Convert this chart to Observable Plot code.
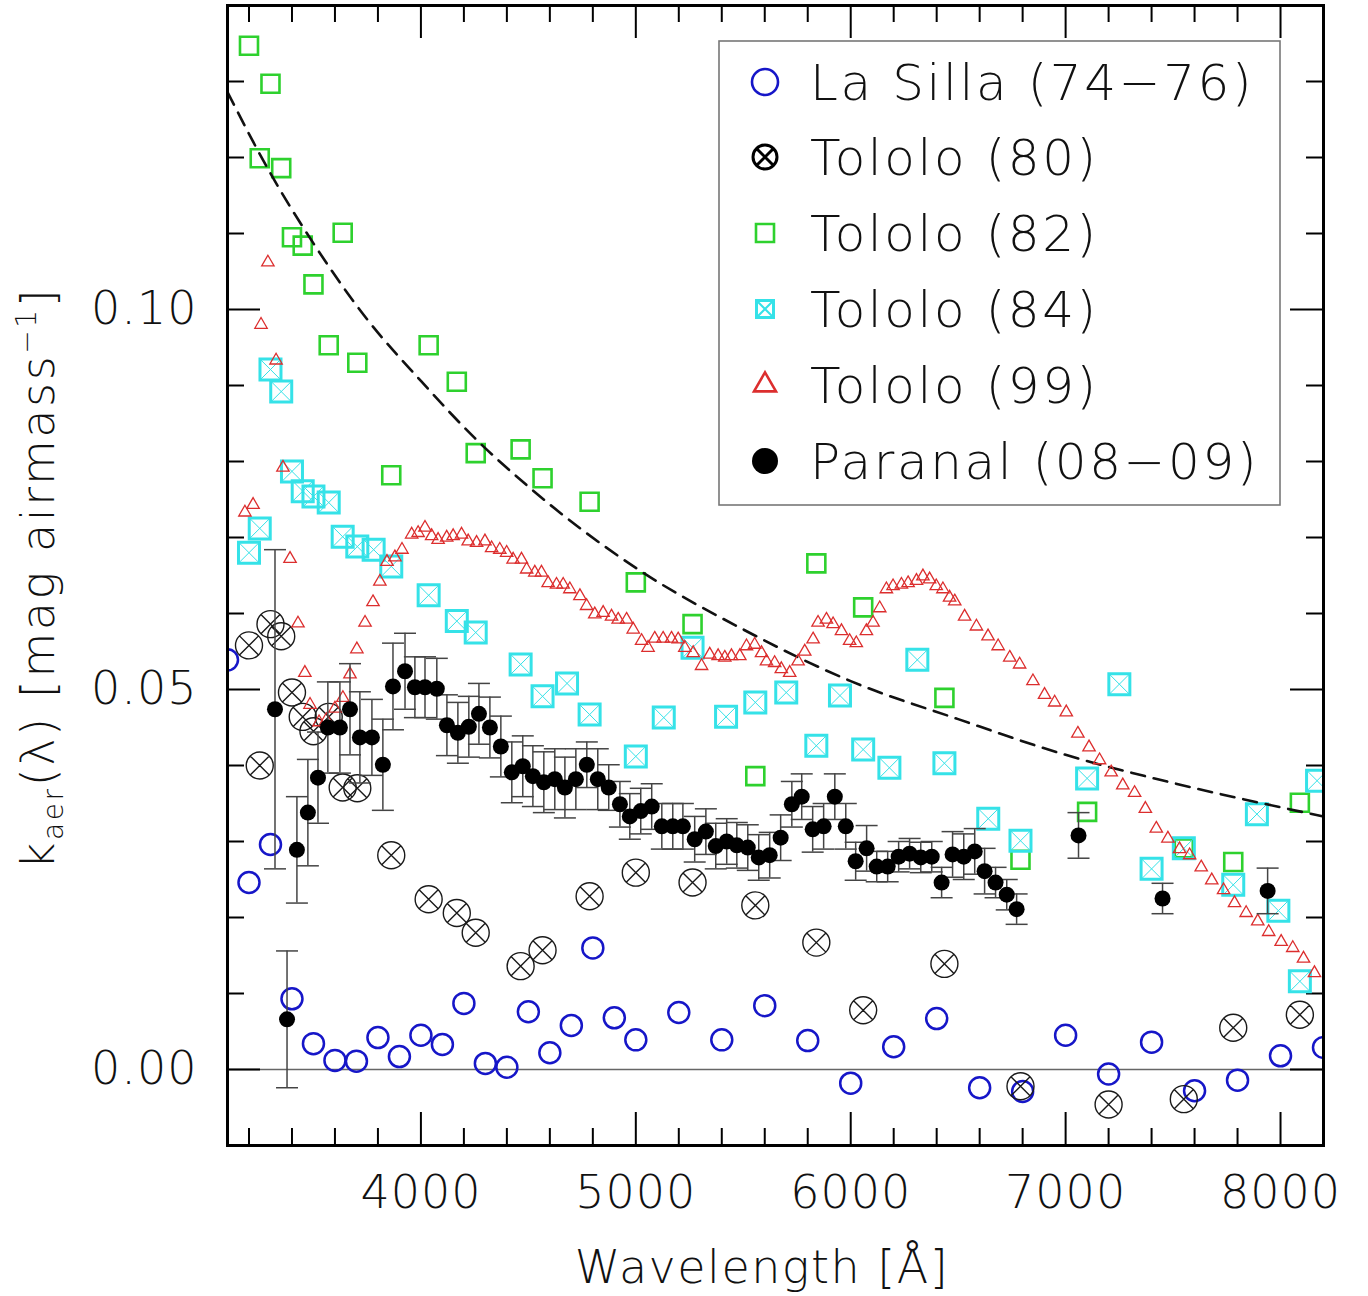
<!DOCTYPE html>
<html><head><meta charset="utf-8">
<script src="https://cdn.jsdelivr.net/npm/d3@7"></script>
<script src="https://cdn.jsdelivr.net/npm/@observablehq/plot@0.6"></script>
<style>
html,body{margin:0;padding:0;background:#fff;}
#chart{position:relative;width:1368px;height:1296px;}
#chart svg text{font-family:"DejaVu Sans",sans-serif;font-weight:200;letter-spacing:1px;}
</style></head><body><div id="chart"></div>
<script>
// ---------- data ----------
const seriesNames = ["La Silla (74\u221276)", "Tololo (80)", "Tololo (82)", "Tololo (84)", "Tololo (99)", "Paranal (08\u221209)"];

const lasillaWl = [3100,3200,3300,3400,3500,3600,3700,3800,3900,4000,4100,4200,4300,4400,4500,4600,4700,4800,4900,5000,5200,5400,5600,5800,6000,6200,6400,6600,6800,7000,7200,7400,7600,7800,8000,8200];
const lasillaK  = [0.0539,0.0246,0.0296,0.0093,0.0034,0.0012,0.0011,0.0042,0.0017,0.0045,0.0033,0.0087,0.0008,0.0003,0.0076,0.0022,0.0058,0.0160,0.0068,0.0039,0.0075,0.0039,0.0084,0.0038,-0.0018,0.0030,0.0067,-0.0024,-0.0029,0.0045,-0.0006,0.0036,-0.0028,-0.0014,0.0018,0.0029];

const t80Wl = [3200,3250,3300,3350,3400,3450,3500,3571,3636,3704,3862,4036,4167,4255,4464,4566,4785,5000,5264,5556,5840,6058,6436,6790,7200,7550,7780,8090];
const t80K  = [0.0558,0.0400,0.0586,0.0570,0.0496,0.0464,0.0445,0.0464,0.0371,0.0370,0.0282,0.0224,0.0206,0.0180,0.0136,0.0157,0.0228,0.0259,0.0246,0.0216,0.0167,0.0078,0.0139,-0.0022,-0.0046,-0.0039,0.0055,0.0072];

const t82Wl = [3200,3250,3300,3350,3400,3450,3500,3571,3636,3704,3862,4036,4167,4255,4464,4566,4785,5000,5264,5556,5840,6058,6436,6790,7100,7550,7780,8090];
const t82K  = [0.1347,0.1199,0.1297,0.1186,0.1095,0.1084,0.1033,0.0953,0.1101,0.0930,0.0782,0.0953,0.0905,0.0811,0.0816,0.0778,0.0747,0.0641,0.0586,0.0386,0.0666,0.0608,0.0489,0.0276,0.0339,0.0291,0.0273,0.0351];

const t84Wl = [3200,3250,3300,3350,3400,3450,3500,3571,3636,3704,3780,3862,4036,4167,4255,4464,4566,4680,4785,5000,5130,5264,5420,5556,5700,5840,5950,6058,6180,6310,6436,6640,6790,7100,7250,7400,7550,7780,7890,7990,8090,8170];
const t84K  = [0.0680,0.0712,0.0921,0.0892,0.0787,0.0761,0.0754,0.0746,0.0701,0.0688,0.0684,0.0662,0.0624,0.0590,0.0575,0.0533,0.0491,0.0508,0.0467,0.0412,0.0463,0.0555,0.0464,0.0483,0.0496,0.0426,0.0492,0.0421,0.0397,0.0539,0.0403,0.0330,0.0301,0.0383,0.0507,0.0264,0.0291,0.0243,0.0336,0.0209,0.0116,0.0380];

const t99Wl = [3181,3219,3256,3288,3326,3358,3391,3428,3460,3484,3526,3560,3600,3637,3670,3702,3740,3777,3809,3842,3879,3912,3957,3987,4019,4050,4080,4120,4150,4189,4220,4259,4298,4329,4367,4399,4429,4468,4492,4530,4561,4592,4631,4662,4693,4740,4771,4809,4848,4887,4918,4957,4988,5027,5057,5088,5127,5166,5197,5228,5267,5306,5344,5383,5414,5445,5484,5515,5553,5585,5608,5646,5677,5716,5755,5786,5825,5848,5887,5918,5957,5995,6026,6073,6104,6135,6166,6197,6236,6267,6306,6336,6367,6398,6429,6460,6484,6530,6585,6639,6686,6740,6786,6848,6902,6949,7003,7057,7109,7158,7212,7266,7321,7371,7422,7476,7530,7577,7631,7680,7735,7786,7840,7894,7945,8003,8057,8107,8158];
const t99K  = [0.0733,0.0743,0.0980,0.1062,0.0933,0.0792,0.0672,0.0587,0.0522,0.0480,0.0457,0.0460,0.0475,0.0489,0.0520,0.0553,0.0588,0.0615,0.0642,0.0668,0.0674,0.0684,0.0704,0.0706,0.0713,0.0702,0.0697,0.0700,0.0702,0.0704,0.0695,0.0693,0.0695,0.0686,0.0684,0.0680,0.0671,0.0671,0.0658,0.0654,0.0654,0.0640,0.0638,0.0638,0.0632,0.0623,0.0610,0.0599,0.0601,0.0596,0.0592,0.0592,0.0579,0.0564,0.0555,0.0567,0.0567,0.0567,0.0566,0.0555,0.0548,0.0531,0.0546,0.0544,0.0542,0.0544,0.0544,0.0557,0.0559,0.0548,0.0537,0.0535,0.0527,0.0522,0.0537,0.0550,0.0566,0.0588,0.0592,0.0586,0.0577,0.0564,0.0561,0.0577,0.0588,0.0607,0.0632,0.0636,0.0638,0.0640,0.0643,0.0649,0.0645,0.0636,0.0632,0.0621,0.0616,0.0596,0.0583,0.0570,0.0557,0.0542,0.0533,0.0511,0.0493,0.0483,0.0470,0.0442,0.0424,0.0407,0.0391,0.0374,0.0364,0.0343,0.0317,0.0304,0.0290,0.0282,0.0266,0.0249,0.0236,0.0219,0.0206,0.0195,0.0181,0.0168,0.0160,0.0146,0.0127];

const parWl  = [3321,3377,3423,3474,3521,3567,3623,3670,3716,3772,3823,3870,3926,3972,4019,4074,4121,4172,4223,4270,4321,4372,4423,4474,4521,4572,4623,4670,4721,4772,4823,4874,4926,4972,5023,5074,5121,5172,5219,5274,5326,5372,5423,5470,5521,5572,5623,5674,5726,5772,5823,5874,5926,5977,6023,6074,6121,6172,6223,6274,6326,6377,6423,6474,6526,6577,6623,6674,6726,6772,7060,7451,7940];
const parK   = [0.0474,0.0066,0.0289,0.0338,0.0384,0.0450,0.0450,0.0474,0.0437,0.0437,0.0401,0.0504,0.0524,0.0503,0.0503,0.0501,0.0453,0.0443,0.0451,0.0468,0.0450,0.0425,0.0391,0.0399,0.0386,0.0378,0.0382,0.0371,0.0382,0.0401,0.0382,0.0371,0.0349,0.0333,0.0340,0.0346,0.0320,0.0320,0.0320,0.0303,0.0313,0.0294,0.0300,0.0295,0.0292,0.0279,0.0282,0.0305,0.0349,0.0359,0.0316,0.0320,0.0359,0.0320,0.0274,0.0291,0.0267,0.0267,0.0280,0.0284,0.0279,0.0280,0.0246,0.0283,0.0280,0.0287,0.0261,0.0246,0.0230,0.0211,0.0308,0.0225,0.0235];
const parErr = [0.021,0.009,0.007,0.007,0.006,0.006,0.006,0.006,0.006,0.005,0.006,0.0057,0.005,0.004,0.004,0.004,0.004,0.004,0.004,0.004,0.004,0.004,0.004,0.004,0.004,0.004,0.004,0.004,0.004,0.003,0.004,0.003,0.003,0.003,0.003,0.003,0.003,0.003,0.003,0.003,0.003,0.003,0.003,0.003,0.003,0.003,0.003,0.003,0.003,0.003,0.003,0.003,0.003,0.003,0.0025,0.003,0.002,0.002,0.002,0.002,0.002,0.002,0.002,0.003,0.003,0.003,0.003,0.002,0.002,0.002,0.003,0.002,0.003];

// dashed fit curve
const fitWl = [3100,3300,3500,3750,4000,4250,4500,5000,5500,6000,6500,7000,7500,8000,8200];
const fitK  = [0.1286,0.1179,0.1087,0.0987,0.0906,0.0831,0.0767,0.0660,0.0579,0.0511,0.0461,0.0414,0.0377,0.0345,0.0333];

const xTicksMajor = [4000,5000,6000,7000,8000];
const xTicksMinor = [3200,3400,3600,3800,4200,4400,4600,4800,5200,5400,5600,5800,6200,6400,6600,6800,7200,7400,7600,7800];
const yTicksMajor = [0,0.05,0.10];
const yTicksMinor = [0.01,0.02,0.03,0.04,0.06,0.07,0.08,0.09,0.11,0.12,0.13];

// ---------- build ----------
const zip = (w, k) => w.map((d, i) => ({wl: d, k: k[i]}));
const lasilla = zip(lasillaWl, lasillaK);
const t80 = zip(t80Wl, t80K);
const t82 = zip(t82Wl, t82K);
const t84 = zip(t84Wl, t84K);
const t99 = zip(t99Wl, t99K);
const par = parWl.map((d, i) => ({wl: d, k: parK[i], err: parErr[i]}));
const fit = zip(fitWl, fitK);

const W = 1368, H = 1296, ML = 227, MT = 5, MR = 45, MB = 151;
const XD = [3100, 8200], YD = [-0.01, 0.14];
const pxX = (XD[1] - XD[0]) / (W - ML - MR);
const pxY = (YD[1] - YD[0]) / (H - MT - MB);
const MAJ = 33, MIN = 17;

const COL = {lasilla: "#1616c8", t80: "#1a1a1a", t82: "#2ed12e", t84: "#35e2e8", t99: "#dc2e2e", par: "#000"};

const circleX = {draw(c, size) { const r = Math.sqrt(size / Math.PI); c.moveTo(r, 0); c.arc(0, 0, r, 0, 2 * Math.PI); const a = r * Math.SQRT1_2; c.moveTo(-a, -a); c.lineTo(a, a); c.moveTo(-a, a); c.lineTo(a, -a); }};
const squareX = {draw(c, size) { const s = Math.sqrt(size) / 2; c.moveTo(-s, -s); c.lineTo(s, s); c.moveTo(-s, s); c.lineTo(s, -s); }};
const hcap = {draw(c, size) { const r = Math.sqrt(size / Math.PI); c.moveTo(-r, 0); c.lineTo(r, 0); }};
const sqR = side => Math.sqrt(side * side / Math.PI);

const tickStyle = {stroke: "#000", strokeWidth: 2};

const plot = Plot.plot({
  width: W, height: H,
  marginLeft: ML, marginTop: MT, marginRight: MR, marginBottom: MB,
  x: {domain: XD},
  y: {domain: YD},
  style: {background: "#fff", color: "#111", fontFamily: '"DejaVu Sans", sans-serif'},
  marks: [
    Plot.ruleY([0], {stroke: "#666", strokeWidth: 1.3}),
    // inward ticks
    Plot.ruleX(xTicksMajor, {x: d => d, y1: YD[0], y2: YD[0] + MAJ * pxY, ...tickStyle}),
    Plot.ruleX(xTicksMinor, {x: d => d, y1: YD[0], y2: YD[0] + MIN * pxY, ...tickStyle}),
    Plot.ruleX(xTicksMajor, {x: d => d, y1: YD[1], y2: YD[1] - MAJ * pxY, ...tickStyle}),
    Plot.ruleX(xTicksMinor, {x: d => d, y1: YD[1], y2: YD[1] - MIN * pxY, ...tickStyle}),
    Plot.ruleY(yTicksMajor, {y: d => d, x1: XD[0], x2: XD[0] + MAJ * pxX, ...tickStyle}),
    Plot.ruleY(yTicksMinor, {y: d => d, x1: XD[0], x2: XD[0] + MIN * pxX, ...tickStyle}),
    Plot.ruleY(yTicksMajor, {y: d => d, x1: XD[1], x2: XD[1] - MAJ * pxX, ...tickStyle}),
    Plot.ruleY(yTicksMinor, {y: d => d, x1: XD[1], x2: XD[1] - MIN * pxX, ...tickStyle}),
    // series
    Plot.dot(lasilla, {x: "wl", y: "k", symbol: "circle", r: 10.5, fill: "none", stroke: COL.lasilla, strokeWidth: 2.5, clip: true}),
    Plot.dot(t80, {x: "wl", y: "k", symbol: circleX, r: 13.5, fill: "none", stroke: COL.t80, strokeWidth: 1.4, clip: true}),
    Plot.dot(t82, {x: "wl", y: "k", symbol: "square", r: sqR(18), fill: "none", stroke: COL.t82, strokeWidth: 2.6, clip: true}),
    Plot.dot(t84, {x: "wl", y: "k", symbol: "square", r: sqR(21), fill: "none", stroke: COL.t84, strokeWidth: 3, clip: true}),
    Plot.dot(t84, {x: "wl", y: "k", symbol: squareX, r: sqR(21), fill: "none", stroke: COL.t84, strokeWidth: 1, clip: true}),
    Plot.line(fit, {x: "wl", y: "k", curve: "monotone-x", stroke: "#111", strokeWidth: 2.6, strokeDasharray: "14,9"}),
    Plot.dot(t99, {x: "wl", y: "k", symbol: "triangle", r: 4.6, fill: "none", stroke: COL.t99, strokeWidth: 1.3, clip: true}),
    Plot.ruleX(par, {x: "wl", y1: d => d.k - d.err, y2: d => d.k + d.err, stroke: "#444", strokeWidth: 1.5}),
    Plot.dot(par, {x: "wl", y: d => d.k + d.err, symbol: hcap, r: 11, fill: "none", stroke: "#444", strokeWidth: 1.5}),
    Plot.dot(par, {x: "wl", y: d => d.k - d.err, symbol: hcap, r: 11, fill: "none", stroke: "#444", strokeWidth: 1.5}),
    Plot.dot(par, {x: "wl", y: "k", symbol: "circle", r: 8, fill: COL.par, stroke: "none"}),
    Plot.frame({stroke: "#000", strokeWidth: 3}),
    Plot.axisX(xTicksMajor, {tickSize: 0, tickPadding: 30, fontSize: 46, tickFormat: d => String(d), label: null}),
    Plot.axisY(yTicksMajor, {tickSize: 0, tickPadding: 30, fontSize: 46, tickFormat: d3.format(".2f"), label: null})
  ]
});
document.getElementById("chart").appendChild(plot);

// ---------- axis titles ----------
const svg = d3.select(plot);
svg.append("text")
  .attr("x", 762).attr("y", 1283)
  .attr("text-anchor", "middle")
  .attr("font-size", 46).attr("fill", "#111")
  .style("letter-spacing", "1.5px")
  .text("Wavelength [\u00c5]");

const yl = svg.append("text")
  .attr("transform", "translate(54,578) rotate(-90)")
  .attr("text-anchor", "middle")
  .attr("font-size", 46).attr("fill", "#111")
  .style("letter-spacing", "2.6px");
yl.append("tspan").text("k");
yl.append("tspan").attr("font-size", 28).attr("dy", 9).text("aer");
yl.append("tspan").attr("dy", -9).text("(\u03bb) [mag airmass");
yl.append("tspan").attr("font-size", 28).attr("dy", -18).text("\u22121");
yl.append("tspan").attr("dy", 18).text("]");

// ---------- legend ----------
const lg = svg.append("g");
lg.append("rect").attr("x", 719).attr("y", 41).attr("width", 561).attr("height", 464)
  .attr("fill", "#fff").attr("stroke", "#777").attr("stroke-width", 1.6);
const rowsY = [82, 157, 233, 309, 385, 461];
const sx = 765;
const sym = (type, size) => d3.symbol(type, size)();
const legendSyms = [
  g => g.append("path").attr("d", sym(d3.symbolCircle, Math.PI * 13 * 13)).attr("fill", "none").attr("stroke", COL.lasilla).attr("stroke-width", 2.6),
  g => g.append("path").attr("d", sym(circleX, Math.PI * 12 * 12)).attr("fill", "none").attr("stroke", "#000").attr("stroke-width", 3),
  g => g.append("path").attr("d", sym(d3.symbolSquare, 18 * 18)).attr("fill", "none").attr("stroke", COL.t82).attr("stroke-width", 2.6),
  g => { g.append("path").attr("d", sym(d3.symbolSquare, 17 * 17)).attr("fill", "none").attr("stroke", COL.t84).attr("stroke-width", 3);
         g.append("path").attr("d", sym(squareX, 17 * 17)).attr("fill", "none").attr("stroke", COL.t84).attr("stroke-width", 2); },
  g => g.append("path").attr("d", sym(d3.symbolTriangle, 22 * 22 * Math.sqrt(3) / 4)).attr("fill", "none").attr("stroke", COL.t99).attr("stroke-width", 2.6),
  g => g.append("path").attr("d", sym(d3.symbolCircle, Math.PI * 13 * 13)).attr("fill", "#000")
];
seriesNames.forEach((name, i) => {
  const g = lg.append("g").attr("transform", `translate(${sx},${rowsY[i]})`);
  legendSyms[i](g);
  lg.append("text").attr("x", 810).attr("y", rowsY[i] + 18)
    .attr("text-anchor", "start")
    .attr("font-size", 50).attr("fill", "#111").style("letter-spacing", "2.6px")
    .text(name);
});
</script>
</body></html>
